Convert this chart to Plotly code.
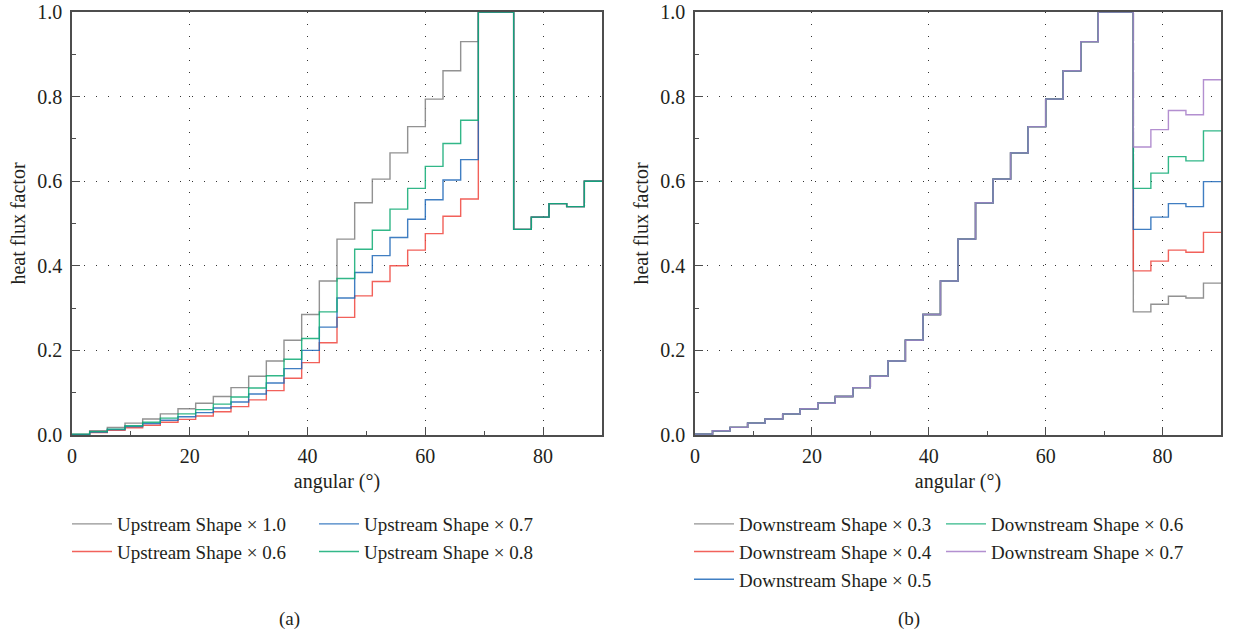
import plotly.graph_objects as go

# ---------------- data ----------------
angle_bins = [0, 3, 6, 9, 12, 15, 18, 21, 24, 27, 30, 33, 36, 39, 42,
              45, 48, 51, 54, 57, 60, 63, 66, 69, 72, 75, 78, 81, 84, 87]
angle_end = 90

up_10 = [0.002, 0.010, 0.018, 0.028, 0.038, 0.050, 0.062, 0.075, 0.091, 0.112,
         0.139, 0.175, 0.224, 0.285, 0.364, 0.463, 0.549, 0.605, 0.667, 0.729,
         0.794, 0.861, 0.930, 1.000, 1.000, 0.486, 0.515, 0.547, 0.540, 0.600]
up_06 = [0.001, 0.006, 0.011, 0.017, 0.023, 0.030, 0.037, 0.045, 0.055, 0.067,
         0.083, 0.105, 0.134, 0.171, 0.218, 0.278, 0.329, 0.363, 0.400, 0.437,
         0.476, 0.517, 0.558, 1.000, 1.000, 0.486, 0.515, 0.547, 0.540, 0.600]
up_07 = [0.001, 0.007, 0.013, 0.020, 0.027, 0.035, 0.043, 0.053, 0.064, 0.078,
         0.097, 0.123, 0.157, 0.200, 0.255, 0.324, 0.384, 0.424, 0.467, 0.510,
         0.556, 0.603, 0.651, 1.000, 1.000, 0.486, 0.515, 0.547, 0.540, 0.600]
up_08 = [0.002, 0.008, 0.014, 0.022, 0.030, 0.040, 0.050, 0.060, 0.073, 0.090,
         0.111, 0.140, 0.179, 0.228, 0.291, 0.370, 0.439, 0.484, 0.534, 0.583,
         0.635, 0.689, 0.744, 1.000, 1.000, 0.486, 0.515, 0.547, 0.540, 0.600]

down_head = [0.002, 0.010, 0.018, 0.028, 0.038, 0.050, 0.062, 0.075, 0.091, 0.112,
             0.139, 0.175, 0.224, 0.285, 0.364, 0.463, 0.549, 0.605, 0.667, 0.729,
             0.794, 0.861, 0.930, 1.000, 1.000]
down_03_tail = [0.291, 0.309, 0.328, 0.324, 0.359]
down_04_tail = [0.388, 0.411, 0.437, 0.432, 0.479]
down_05_tail = [0.486, 0.515, 0.547, 0.540, 0.599]
down_06_tail = [0.583, 0.619, 0.658, 0.648, 0.719]
down_07_tail = [0.681, 0.722, 0.767, 0.757, 0.840]

up_names = ["Upstream Shape \u00d7 1.0", "Upstream Shape \u00d7 0.6",
            "Upstream Shape \u00d7 0.7", "Upstream Shape \u00d7 0.8"]
down_names = ["Downstream Shape \u00d7 0.3", "Downstream Shape \u00d7 0.4",
              "Downstream Shape \u00d7 0.5", "Downstream Shape \u00d7 0.6",
              "Downstream Shape \u00d7 0.7"]

x_ticks = [0, 20, 40, 60, 80]
y_ticks = [0.0, 0.2, 0.4, 0.6, 0.8, 1.0]

# ---------------- style ----------------
GRAY = "#7f7f7f"
RED = "#f0463e"
BLUE = "#1f68b8"
GREEN = "#0fab74"
PURPLE = "#a67cc8"
FONT = "Liberation Serif"
TEXT = "#231f20"
AX = "#4d4d4d"

fig = go.Figure()

def step(vals):
    return angle_bins + [angle_end], list(vals) + [vals[-1]]

up_series = [(up_10, GRAY, "c1"), (up_06, RED, "c1"), (up_07, BLUE, "c2"), (up_08, GREEN, "c2")]
for (vals, col, grp), name in zip(up_series, up_names):
    xs, ys = step(vals)
    fig.add_trace(go.Scatter(x=xs, y=ys, mode="lines", line_shape="hv", name=name,
                             line=dict(color=col, width=1.4), opacity=0.85,
                             legendgroup=grp, legend="legend", xaxis="x", yaxis="y"))

down_series = [(down_03_tail, GRAY, "d1"), (down_04_tail, RED, "d1"), (down_05_tail, BLUE, "d1"),
               (down_06_tail, GREEN, "d2"), (down_07_tail, PURPLE, "d2")]
for (tail, col, grp), name in zip(down_series, down_names):
    xs, ys = step(down_head + tail)
    fig.add_trace(go.Scatter(x=xs, y=ys, mode="lines", line_shape="hv", name=name,
                             line=dict(color=col, width=1.4), opacity=0.85,
                             legendgroup=grp, legend="legend2", xaxis="x2", yaxis="y2"))

H = 638.0
W = 1238.0
y_dom = [1 - 435 / H, 1 - 12 / H]

common = dict(showline=True, linecolor=AX, linewidth=1.5, mirror=True,
              ticks="inside", ticklen=8, tickwidth=1.2, tickcolor=AX,
              showgrid=True, gridcolor="#333333", gridwidth=1.3, griddash="1.3px,10.7px",
              zeroline=False, tickfont=dict(size=20, family=FONT, color=TEXT),
              layer="above traces", automargin=False)

xcommon = dict(common, range=[0, 90], tickvals=x_ticks,
               minor=dict(ticks="inside", ticklen=4, tickwidth=1.2, tickcolor=AX,
                          dtick=10, tick0=0, showgrid=False),
               title=dict(text="angular (\u00b0)", font=dict(size=20, family=FONT, color=TEXT),
                          standoff=8),
               ticklabelstandoff=2)
ycommon = dict(common, range=[0, 1], tickvals=y_ticks, tickformat=".1f",
               minor=dict(ticks="inside", ticklen=4, tickwidth=1.2, tickcolor=AX,
                          dtick=0.1, tick0=0, showgrid=False),
               title=dict(text="heat flux factor", font=dict(size=20, family=FONT, color=TEXT),
                          standoff=6),
               ticklabelstandoff=4)

fig.update_layout(
    width=1238, height=638,
    margin=dict(l=0, r=0, t=0, b=0, autoexpand=False),
    paper_bgcolor="white", plot_bgcolor="white",
    font=dict(family=FONT, size=19, color=TEXT),
    xaxis=dict(xcommon, domain=[72 / W, 602 / W], anchor="y"),
    yaxis=dict(ycommon, domain=y_dom, anchor="x"),
    xaxis2=dict(xcommon, domain=[695 / W, 1221 / W], anchor="y2"),
    yaxis2=dict(ycommon, domain=y_dom, anchor="x2"),
    legend=dict(orientation="h", traceorder="grouped", x=67 / W, y=1 - 505 / H,
                xanchor="left", yanchor="top", bgcolor="rgba(0,0,0,0)",
                font=dict(size=19, family=FONT, color=TEXT), tracegroupgap=0,
                entrywidth=192, itemwidth=40),
    legend2=dict(orientation="h", traceorder="grouped", x=689 / W, y=1 - 505 / H,
                 xanchor="left", yanchor="top", bgcolor="rgba(0,0,0,0)",
                 font=dict(size=19, family=FONT, color=TEXT), tracegroupgap=0,
                 entrywidth=197, itemwidth=40),
    annotations=[
        dict(text="(a)", x=289 / W, y=1 - 619 / H, xref="paper", yref="paper",
             xanchor="center", yanchor="middle",
             showarrow=False, font=dict(size=19, family=FONT, color=TEXT)),
        dict(text="(b)", x=909 / W, y=1 - 619 / H, xref="paper", yref="paper",
             xanchor="center", yanchor="middle",
             showarrow=False, font=dict(size=19, family=FONT, color=TEXT)),
    ],
)

fig.write_html("out.html", config={"displayModeBar": False},
               post_script="document.body.style.margin='0px';")
